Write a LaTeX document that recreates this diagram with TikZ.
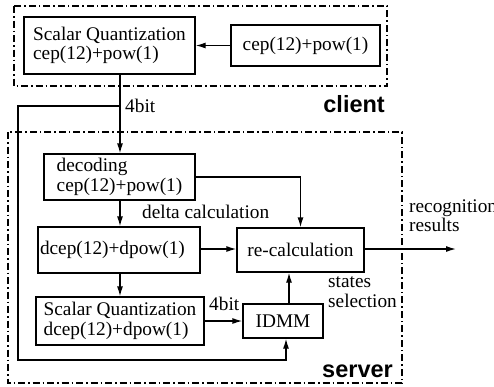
\documentclass[tikz,border=0pt]{standalone}
\usepackage{fontspec}
\setmainfont{Liberation Serif}
\newfontfamily\labsans{Liberation Sans}
\usetikzlibrary{arrows.meta,calc}
\begin{document}
\begin{tikzpicture}[x=1pt,y=-1pt,
  every node/.style={font=\fontsize{19.3}{19.5}\selectfont},
  box/.style={draw, line width=1.3pt, inner sep=0pt, align=left},
  frame/.style={line width=1.2pt, dash pattern=on 7pt off 3pt on 1.5pt off 3pt},
  conn/.style={line width=1.3pt},
  arr/.style={conn, -{Latex[length=10pt,width=6pt]}},
  lbl/.style={inner sep=0pt, anchor=base west, align=left},
  big/.style={inner sep=0pt, anchor=base east, font=\labsans\bfseries\fontsize{23.5}{23.5}\selectfont}]
\useasboundingbox (0,0) rectangle (494,386);

% frames
\draw[frame] (14,6) rectangle (387,86);
\draw[frame] (8,132) rectangle (402,383);

% boxes
\node[box, minimum width=171, minimum height=57] (sq1) at (109.5,45.5) {Scalar Quantization\\cep(12)+pow(1)};
\node[box, minimum width=149, minimum height=41] (cep1) at (305.5,45.5) {cep(12)+pow(1)};
\node[box, minimum width=151, minimum height=46] (dec) at (119.5,177) {decoding\\cep(12)+pow(1)};
\node[box, inner xsep=2pt, text width=158pt, minimum height=46] (dcep) at (119,250) {dcep(12)+dpow(1)};
\node[box, minimum width=127, minimum height=44] (recalc) at (300.5,250) {re-calculation};
\node[box, minimum width=168, minimum height=48] (sq2) at (120,321) {Scalar Quantization\\dcep(12)+dpow(1)};
\node[box, minimum width=80, minimum height=34] (idmm) at (283,321) {IDMM};

% helper coordinates
\coordinate (j1) at (120,106);
\coordinate (c1) at (18,106);
\coordinate (c2) at (18,360);
\coordinate (c3) at (286,360);
\coordinate (u) at (289,0);
\coordinate (out) at (456,249);

% connectors
\draw[arr] (cep1.west) -- (sq1.east);
\draw[arr] (sq1.south -| j1) -- (dec.north -| j1);
\draw[arr] (j1) -- (c1) -- (c2) -- (c3) -- (idmm.south -| c3);
\draw[arr] (dec.east) -| (recalc.north);
\draw[arr] (dec.south -| j1) -- (dcep.north -| j1);
\draw[arr] (dcep.east |- out) -- (recalc.west |- out);
\draw[arr] (recalc.east |- out) -- (out);
\draw[arr] (dcep.south -| j1) -- (sq2.north -| j1);
\draw[arr] (sq2.east) -- (idmm.west);
\draw[arr] (idmm.north -| u) -- (recalc.south -| u);

% labels
\node[lbl] (bit1) at (125,112) {4bit};
\node[big] (client) at (385,112) {client};
\node[lbl] (delta) at (142,218) {delta calculation};
\node[lbl, font=\fontsize{19.3}{17}\selectfont] (recog) at (409,231) {recognition\\results};
\node[lbl] (states) at (328,307) {states\\selection};
\node[lbl] (bit2) at (209,310) {4bit};
\node[big] (server) at (393,377) {server};
\end{tikzpicture}
\end{document}
